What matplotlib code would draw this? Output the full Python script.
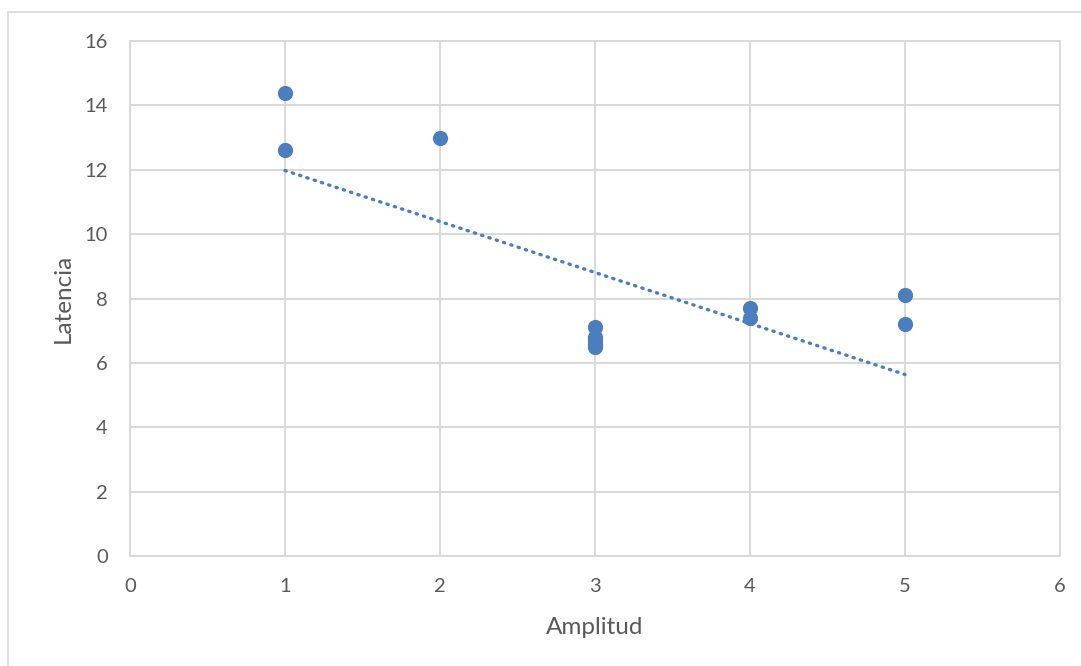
import matplotlib
matplotlib.use("Agg")
import matplotlib.pyplot as plt
import numpy as np
from matplotlib.patches import Rectangle

# Amplitude vs latency measurements
amplitud = [1, 1, 2, 3, 3, 3, 3, 3, 4, 4, 5, 5]
latencia = [14.4, 12.6, 13.0, 7.1, 6.8, 6.7, 6.6, 6.5, 7.7, 7.4, 8.1, 7.2]

x_ticks = [0, 1, 2, 3, 4, 5, 6]
y_ticks = [0, 2, 4, 6, 8, 10, 12, 14, 16]

plt.rcParams['font.family'] = ['Lato', 'DejaVu Sans']

fig = plt.figure(figsize=(10.81, 6.66), dpi=100)
fig.patch.set_facecolor('white')

# light outer chart frame
fig.add_artist(Rectangle((8 / 1081, -0.1), 1.2, (666 - 12) / 666 + 0.1,
                         transform=fig.transFigure, fill=False,
                         edgecolor='#d9d9d9', linewidth=1.2))

ax = fig.add_axes([130 / 1081, 110 / 666, 930 / 1081, 515 / 666])
grid_c = '#d9d9d9'
ax.set_xlim(0, 6)
ax.set_ylim(0, 16)
ax.set_xticks(x_ticks)
ax.set_yticks(y_ticks)
ax.grid(True, color=grid_c, linewidth=1.4)
ax.set_axisbelow(True)
for s in ax.spines.values():
    s.set_color(grid_c)
    s.set_linewidth(1.4)
ax.tick_params(length=0, labelsize=14.5, labelcolor='#595959')
ax.tick_params(axis='x', pad=16)
ax.tick_params(axis='y', pad=16)

blue = '#4a7ebf'
ax.scatter(amplitud, latencia, s=120, color=blue, zorder=3, linewidths=0)

# linear trend line
xa = np.array(amplitud, dtype=float)
ya = np.array(latencia, dtype=float)
b, a = np.polyfit(xa, ya, 1)
xl = np.array([min(amplitud), max(amplitud)])
ax.plot(xl, a + b * xl, color=blue, linewidth=2.4,
        linestyle=(0, (0.4, 1.9)), dash_capstyle='round', zorder=2)

ax.set_xlabel('Amplitud', fontsize=17.5, color='#595959', labelpad=16)
ax.set_ylabel('Latencia', fontsize=17.5, color='#595959', labelpad=8)

fig.savefig('out.png', dpi=100)
